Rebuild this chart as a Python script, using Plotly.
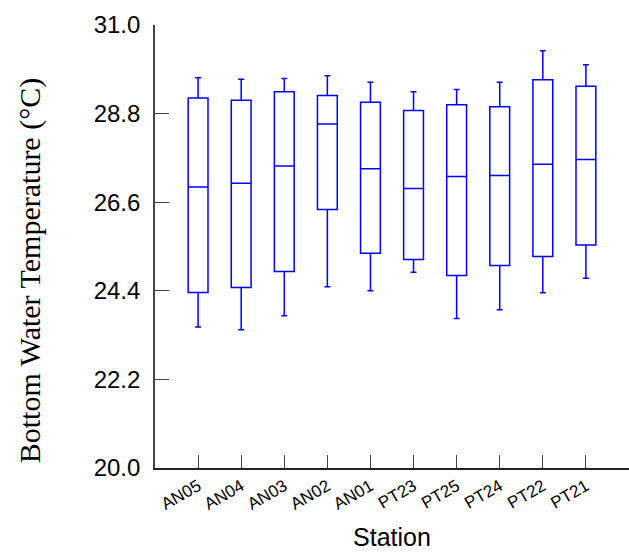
import plotly.graph_objects as go

# Bottom water temperature summary per station (°C)
stations = ["AN05", "AN04", "AN03", "AN02", "AN01", "PT23", "PT25", "PT24", "PT22", "PT21"]
lower_whisker = [23.50, 23.43, 23.78, 24.50, 24.40, 24.86, 23.71, 23.93, 24.35, 24.71]
q1_values = [24.36, 24.48, 24.88, 26.42, 25.33, 25.18, 24.78, 25.03, 25.25, 25.54]
medians = [26.98, 27.07, 27.50, 28.54, 27.43, 26.94, 27.24, 27.26, 27.54, 27.66]
q3_values = [29.19, 29.13, 29.34, 29.25, 29.08, 28.88, 29.02, 28.97, 29.64, 29.48]
upper_whisker = [29.69, 29.65, 29.67, 29.74, 29.58, 29.34, 29.40, 29.58, 30.36, 30.01]
y_ticks = [20.0, 22.2, 24.4, 26.6, 28.8, 31.0]

fig = go.Figure()
fig.add_trace(go.Box(
    x=stations,
    q1=q1_values,
    median=medians,
    q3=q3_values,
    lowerfence=lower_whisker,
    upperfence=upper_whisker,
    width=0.46,
    whiskerwidth=0.3,
    fillcolor="rgba(0,0,0,0)",
    line=dict(color="#0000ff", width=1.5),
    boxpoints=False,
    hoverinfo="skip",
    showlegend=False,
))

# Y-axis title placed as a rotated annotation so it can sit slightly below centre
fig.add_annotation(
    text="Bottom Water Temperature (°C)",
    xref="paper", yref="paper",
    x=-0.265, y=0.445,
    xanchor="center", yanchor="middle",
    textangle=-90,
    showarrow=False,
    font=dict(family="Liberation Serif, Times New Roman", size=30, color="black"),
)

fig.update_layout(
    width=629,
    height=554,
    margin=dict(l=155, r=0, t=25, b=86),
    paper_bgcolor="white",
    plot_bgcolor="white",
    xaxis=dict(
        type="category",
        categoryorder="array",
        categoryarray=stations,
        range=[-1, 10],
        showgrid=False,
        zeroline=False,
        showline=True,
        linecolor="#222222",
        linewidth=1.6,
        ticks="inside",
        ticklen=13,
        tickwidth=1,
        tickcolor="#444444",
        tickangle=-30,
        tickfont=dict(family="Liberation Sans, Arial", size=17, color="black"),
        title=dict(text="Station", font=dict(family="Liberation Sans, Arial", size=25, color="black"), standoff=16),
    ),
    yaxis=dict(
        range=[20, 31],
        tickvals=y_ticks,
        ticktext=[f"{v:.1f}" for v in y_ticks],
        showgrid=False,
        zeroline=False,
        showline=True,
        linecolor="#444444",
        linewidth=1.6,
        ticks="inside",
        ticklen=14,
        tickwidth=1,
        tickcolor="#444444",
        ticklabelstandoff=8,
        tickfont=dict(family="Liberation Sans, Arial", size=24, color="black"),
    ),
)

fig.write_html("out.html")
